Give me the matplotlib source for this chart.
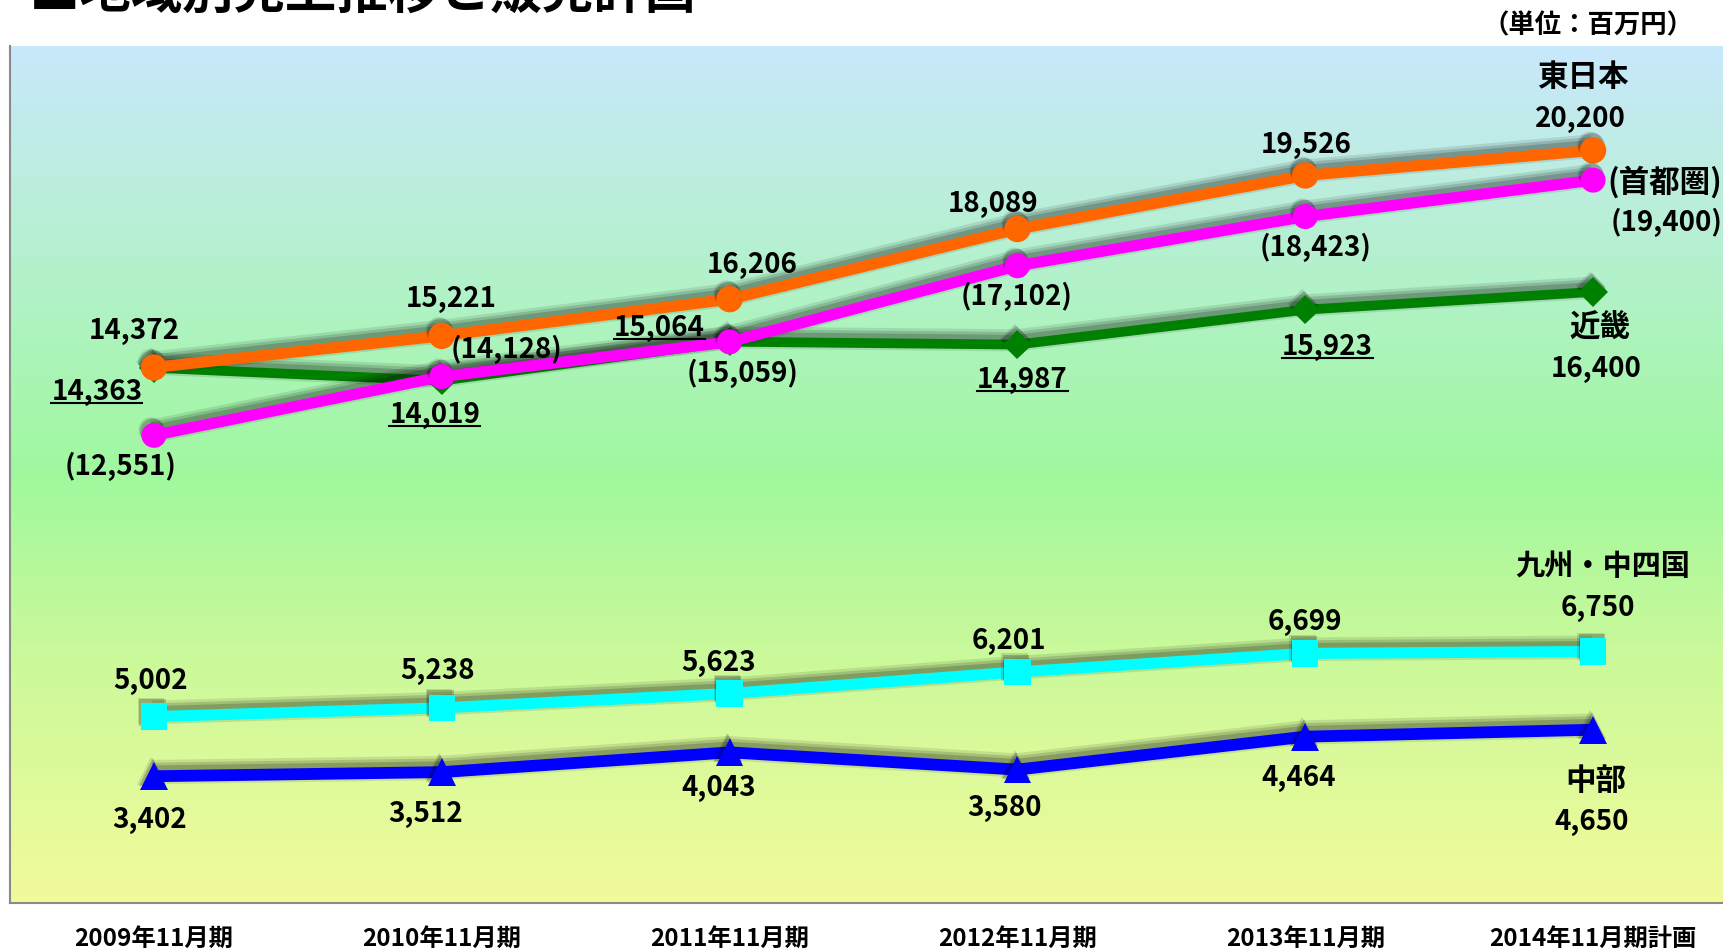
import matplotlib
matplotlib.use("Agg")
import matplotlib.pyplot as plt
import matplotlib.patheffects as pe
from matplotlib.colors import LinearSegmentedColormap
from matplotlib.lines import Line2D
from matplotlib.transforms import IdentityTransform
import numpy as np

plt.rcParams['font.family'] = ['Noto Sans CJK JP', 'DejaVu Sans']

# ---------------- data ----------------
categories = ["2009年11月期", "2010年11月期", "2011年11月期",
              "2012年11月期", "2013年11月期", "2014年11月期計画"]
east_japan = [14372, 15221, 16206, 18089, 19526, 20200]     # 東日本
capital = [12551, 14128, 15059, 17102, 18423, 19400]        # (首都圏)
kinki = [14363, 14019, 15064, 14987, 15923, 16400]          # 近畿
kyushu = [5002, 5238, 5623, 6201, 6699, 6750]               # 九州・中四国
chubu = [3402, 3512, 4043, 3580, 4464, 4650]                # 中部

title = "■地域別売上推移と販売計画"
unit_label = "（単位：百万円）"

# ---------------- figure ----------------
W, H = 1723, 951
fig = plt.figure(figsize=(W / 100, H / 100), dpi=100)
ax_left, ax_right, ax_top, ax_bottom = 10, 1737, 46, 903
ax = fig.add_axes([ax_left / W, 1 - ax_bottom / H,
                   (ax_right - ax_left) / W, (ax_bottom - ax_top) / H])
x = np.arange(len(categories))
ax.set_xlim(-0.5, len(categories) - 0.5)
ax.set_ylim(0, 23000)

# gradient background
cmap = LinearSegmentedColormap.from_list(
    "bg", [(0.0, "#f2fb9a"), (0.30, "#c8f99a"), (0.50, "#a0f89e"),
           (0.72, "#b2f2c8"), (1.0, "#c8e8fb")])
grad = np.linspace(0, 1, 256).reshape(-1, 1)
ax.imshow(grad, extent=[-0.5, len(categories) - 0.5, 0, 23000], origin="lower",
          aspect="auto", cmap=cmap, zorder=0, interpolation="bicubic")

for s in ["top", "right"]:
    ax.spines[s].set_visible(False)
for s in ["left", "bottom"]:
    ax.spines[s].set_color("#8a8a8a")
    ax.spines[s].set_linewidth(1.5)
ax.set_yticks([])
ax.set_xticks(x)
ax.set_xticklabels(categories, fontsize=17.5, fontweight="bold")
ax.tick_params(axis="x", length=0, pad=17)


def shadow_line(lw):
    return [pe.SimpleLineShadow(offset=(-1, 3), shadow_color="k", alpha=0.10, linewidth=lw + 9),
            pe.SimpleLineShadow(offset=(-1, 3), shadow_color="k", alpha=0.14, linewidth=lw + 5),
            pe.SimpleLineShadow(offset=(-1, 3), shadow_color="k", alpha=0.18, linewidth=lw + 1),
            pe.Normal()]


def shadow_marker():
    return [pe.SimplePatchShadow(offset=(-2, 4), shadow_rgbFace="k", alpha=0.12),
            pe.SimplePatchShadow(offset=(-1, 3), shadow_rgbFace="k", alpha=0.2),
            pe.Normal()]


series = [
    (kinki, "#008000", "D", 7, 15, 2),
    (east_japan, "#ff6600", "o", 8, 19, 3),
    (capital, "#ff00ff", "o", 8, 18, 4),
    (kyushu, "#00ffff", "s", 8, 19, 3),
    (chubu, "#0000ff", "^", 8.5, 20, 3),
]
for vals, col, mk, lw, ms, z in series:
    ax.plot(x, vals, color=col, lw=lw, solid_capstyle="butt", zorder=z,
            path_effects=shadow_line(lw))
    ax.plot(x, vals, linestyle="none", marker=mk, ms=ms, color=col, mec=col,
            mew=0, zorder=z + 0.5, path_effects=shadow_marker())

FS = 20
RFS = 22


def lab(i, v, txt, dx, dy, ha="center", fs=FS):
    return ax.annotate(txt, xy=(i, v), xytext=(dx, dy), textcoords="offset pixels",
                       ha=ha, va="center", fontsize=fs, fontweight="bold",
                       color="black", zorder=10)


# label offsets (pixels)
east_off = [(-20, 36), (9, 37), (23, 34), (-24, 25), (1, 30), (-13, 31)]
cap_off = [(-33, -31), (65, 27), (13, -31), (-1, -31), (10, -31)]
kinki_off = [(-57, -24), (-7, -34), (-70, 14), (5, -35), (22, -37)]
kyu_off = [(-3, 36), (-4, 37), (-11, 30), (-9, 31), (0, 31), (5, 43)]
chubu_off = [(-4, -44), (-16, -42), (-11, -36), (-13, -38), (-7, -41), (-1, -92)]

for i, v in enumerate(east_japan):
    lab(i, v, f"{v:,}", *east_off[i])
lab(5, east_japan[5], "東日本", -10, 73, fs=RFS)

for i, v in enumerate(capital[:5]):
    lab(i, v, f"({v:,})", *cap_off[i])
lab(5, capital[5], "(首都圏)", 14, -2, ha="left", fs=RFS)
lab(5, capital[5], f"({capital[5]:,})", 18, -42, ha="left")

underlined = []
for i, v in enumerate(kinki[:5]):
    underlined.append(lab(i, v, f"{v:,}", *kinki_off[i]))
lab(5, kinki[5], "近畿", 7, -35, fs=RFS)
lab(5, kinki[5], f"{kinki[5]:,}", 3, -77)

for i, v in enumerate(kyushu):
    lab(i, v, f"{v:,}", *kyu_off[i])
lab(5, kyushu[5], "九州・中四国", 10, 85, fs=21)

for i, v in enumerate(chubu):
    lab(i, v, f"{v:,}", *chubu_off[i])
lab(5, chubu[5], "中部", 3, -51, fs=RFS)

fig.text(29 / W, 1 - 19 / H, title, fontsize=37, fontweight="bold", ha="left", va="bottom")
fig.text(1588 / W, 1 - 26 / H, unit_label, fontsize=19, fontweight="bold", ha="center", va="center")

# underlines for 近畿 labels
fig.canvas.draw()
r = fig.canvas.get_renderer()
for t in underlined:
    bb = t.get_window_extent(r)
    y = bb.y0 + 3
    fig.add_artist(Line2D([bb.x0, bb.x1], [y, y], transform=IdentityTransform(),
                          color="black", lw=1.5, zorder=11))

fig.savefig("out.png", dpi=100)
